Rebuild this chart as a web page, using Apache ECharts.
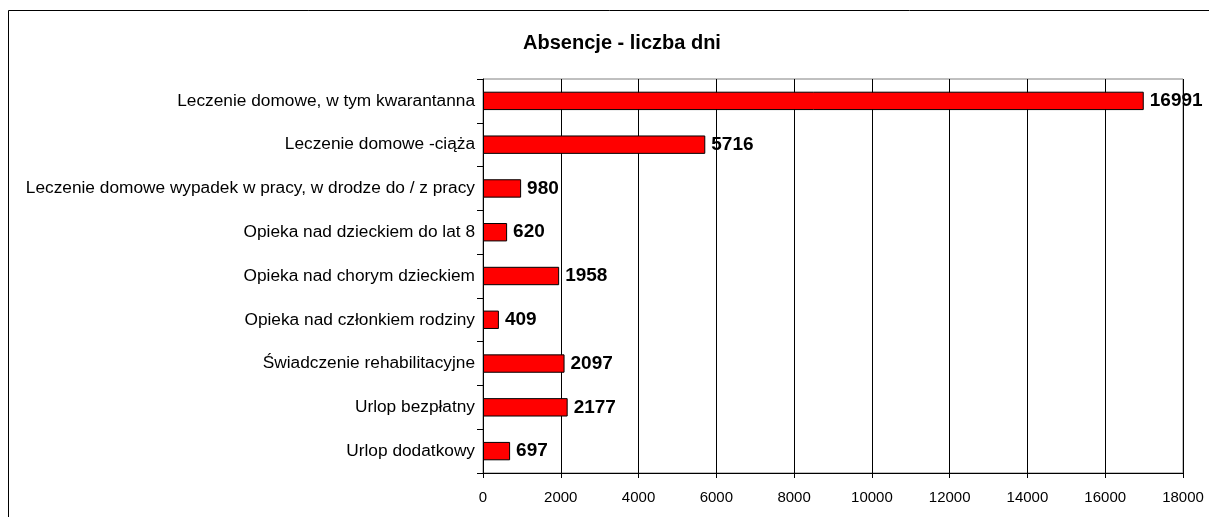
<!DOCTYPE html>
<html>
<head>
<meta charset="utf-8">
<script src="https://cdn.jsdelivr.net/npm/echarts@6/dist/echarts.min.js"></script>
<style>
  html, body { margin: 0; padding: 0; background: #fff; }
  #chart { width: 1209px; height: 517px; }
</style>
</head>
<body>
<div id="chart"></div>
<script>
const categories = [
  'Leczenie domowe, w tym kwarantanna',
  'Leczenie domowe -ciąża',
  'Leczenie domowe wypadek w pracy, w drodze do / z pracy',
  'Opieka nad dzieckiem do lat 8',
  'Opieka nad chorym dzieckiem',
  'Opieka nad członkiem rodziny',
  'Świadczenie rehabilitacyjne',
  'Urlop bezpłatny',
  'Urlop dodatkowy'
]
const days = [16991, 5716, 980, 620, 1958, 409, 2097, 2177, 697]
const xTicks = [0, 2000, 4000, 6000, 8000, 10000, 12000, 14000, 16000, 18000]

const font = 'Liberation Sans, Arial, sans-serif'
const chart = echarts.init(document.getElementById('chart'))

chart.setOption({
  animation: false,
  backgroundColor: '#fff',
  title: {
    text: 'Absencje - liczba dni',
    left: 617,
    top: 28,
    textAlign: 'center',
    textStyle: { fontFamily: font, fontSize: 20, fontWeight: 'bold', color: '#000' }
  },
  graphic: [
    {
      // outer chart frame, runs off the right and bottom edges
      type: 'rect',
      shape: { x: 8.5, y: 10.5, width: 1300, height: 600 },
      style: { fill: 'none', stroke: '#000', lineWidth: 1 },
      silent: true
    }
  ],
  grid: {
    left: 483, right: 26, top: 79, bottom: 44,
    show: true, borderColor: '#808080', borderWidth: 1, backgroundColor: 'transparent'
  },
  xAxis: {
    type: 'value',
    min: xTicks[0],
    max: xTicks[xTicks.length - 1],
    interval: 2000,
    axisLine: { show: true, lineStyle: { color: '#000', width: 1 } },
    axisTick: { show: true, length: 5, lineStyle: { color: '#000' } },
    axisLabel: { color: '#000', fontFamily: font, fontSize: 15, margin: 17, formatter: v => String(v) },
    splitLine: { show: true, lineStyle: { color: '#000', width: 1 } }
  },
  yAxis: {
    type: 'category',
    inverse: true,
    data: categories,
    axisLine: { show: true, lineStyle: { color: '#000', width: 1 } },
    axisTick: { show: true, length: 6, inside: false, lineStyle: { color: '#000' } },
    axisLabel: { color: '#000', fontFamily: font, fontSize: 17.3, margin: 8 }
  },
  series: [
    {
      type: 'bar',
      data: days,
      barCategoryGap: '58%',
      itemStyle: { color: '#ff0000', borderColor: '#000', borderWidth: 1 },
      label: {
        show: true,
        position: 'right',
        distance: 6,
        color: '#000',
        fontFamily: font,
        fontSize: 19,
        fontWeight: 'bold'
      }
    }
  ]
})
</script>
</body>
</html>
